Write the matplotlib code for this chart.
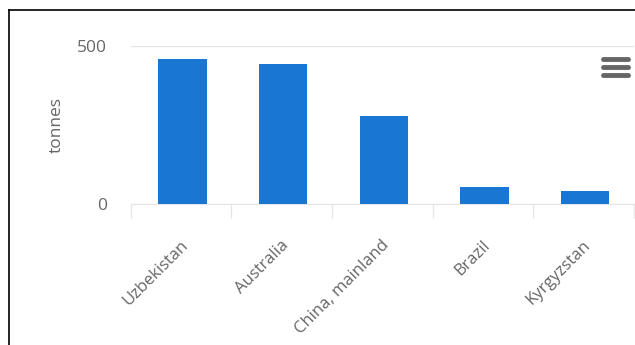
import numpy as np
import matplotlib.pyplot as plt
from matplotlib.lines import Line2D

plt.rcParams['font.family'] = ['Open Sans', 'DejaVu Sans']

countries = ['Uzbekistan', 'Australia', 'China, mainland', 'Brazil', 'Kyrgyzstan']
tonnes = [459, 443, 278, 54, 41]
y_ticks = [0, 500]

fig = plt.figure(figsize=(6.35, 3.45), dpi=100)
ax = fig.add_axes([0.206, 0.409, 0.792, 0.458])

x = np.arange(len(countries))
ax.bar(x + 0.015, tonnes, width=0.48, color='#1976d2', zorder=3)

ax.set_xlim(-0.5, len(countries) - 0.5)
ax.set_ylim(0, 500)
ax.set_yticks(y_ticks)
ax.set_yticklabels([str(v) for v in y_ticks], color='#666666', fontsize=12.5)
ax.tick_params(axis='y', length=0, pad=17)
ax.grid(axis='y', color='#e6e6e6', linewidth=1, zorder=0)

# category ticks sit on band edges, labels at centres
ax.set_xticks(np.arange(-0.5, len(countries)), minor=False)
ax.set_xticklabels([])
ax.set_xticks(x - 0.01, minor=True)
ax.set_xticklabels(countries, minor=True, rotation=45, ha='right', va='top',
                   rotation_mode='anchor', color='#666666', fontsize=12)
ax.tick_params(axis='x', which='major', length=10, color='#e6e6e6', width=1)
ax.tick_params(axis='x', which='minor', length=0, pad=24)

for s in ['top', 'right', 'left']:
    ax.spines[s].set_visible(False)
ax.spines['bottom'].set_color('#e6e6e6')

ax.set_ylabel('tonnes', color='#666666', fontsize=12.5, labelpad=9)

# frame of the chart container (left and top only)
fig.add_artist(Line2D([9/635, 9/635], [0, 1 - 10/345], color='black', lw=1.2))
fig.add_artist(Line2D([9/635, 1], [1 - 10/345, 1 - 10/345], color='black', lw=1.2))

# menu icon
for yy in [59, 67, 75]:
    fig.add_artist(Line2D([603/635, 628/635], [1 - yy/345, 1 - yy/345],
                          color='#666666', lw=3.5, solid_capstyle='round'))

fig.savefig('out.png', dpi=100)
